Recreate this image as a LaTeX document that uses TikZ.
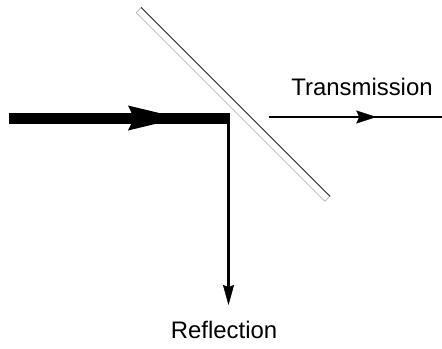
\documentclass[tikz,border=0pt]{standalone}
\usepackage{fontspec}
\setmainfont{Liberation Sans}
\usetikzlibrary{arrows.meta,decorations.markings}

\tikzset{
  outarrow/.style={postaction={decorate},decoration={markings,
    mark=at position 0.62 with {\arrow{Stealth[length=20bp,width=13bp,inset=3bp,line width=0.4bp]}}}},
}

\begin{document}
\begin{tikzpicture}[x=1bp,y=-1bp]
\useasboundingbox (0,0) rectangle (442,348);
\fontsize{24}{28}\selectfont
\node[draw=gray!70, fill=white, rectangle, rotate=-45, minimum width=267bp, minimum height=7bp, inner sep=0pt, line width=0.5bp] (mirror) at (233,104.5) {};
\path[draw,line width=0.8bp,black!80] (mirror.north west) -- (mirror.north east);

\coordinate (src) at (9,118);
\coordinate (hit) at (230,118);
\coordinate (head) at (180,118);
\coordinate (bend) at (228.5,113);
\coordinate (down) at (228.5,305);
\coordinate (tstart) at (269,117);
\coordinate (tend) at (442,117);
\node[anchor=base] (trans) at (362,95) {Transmission};
\node[anchor=base] (refl) at (224,338) {Reflection};

\path[draw,line width=11bp] (src) -- (hit);
\path[fill] (head) -- ++(-52,-12.5) -- ++(6,12.5) -- ++(-6,12.5) -- cycle;
\path[draw,line width=3bp,-{Stealth[length=20bp,width=11bp,inset=2bp,line width=0.4bp]}] (bend) -- (down);
\path[draw,line width=2bp,outarrow] (tstart) -- (tend);
\end{tikzpicture}
\end{document}
